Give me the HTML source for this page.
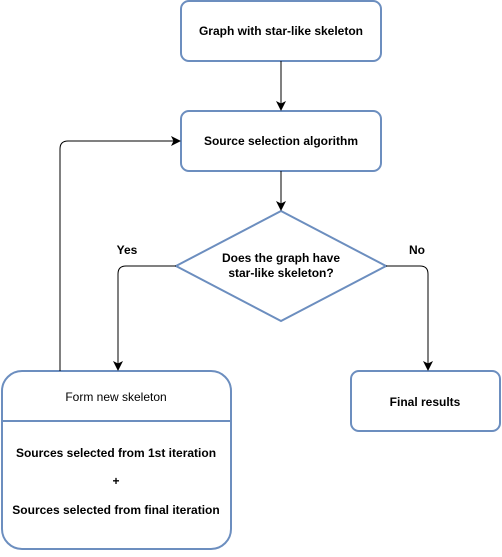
<!DOCTYPE html>
<html><head><style>
body{margin:0;background:#fff;}
svg text{font-family:"Liberation Sans",sans-serif;font-size:12px;font-weight:bold;fill:#000;}
</style></head><body>
<svg width="502" height="552" viewBox="0 0 502 552" xmlns="http://www.w3.org/2000/svg">
<defs><marker id="a" markerWidth="10" markerHeight="10" refX="9" refY="5" orient="auto" markerUnits="userSpaceOnUse"><path d="M0,0 L10,5 L0,10 L2.5,5 Z" fill="#000"/></marker></defs>
<g fill="#fff" stroke="#6c8ebf" stroke-width="2">
<rect x="181" y="1" width="200" height="60" rx="8"/>
<rect x="181" y="111" width="200" height="60" rx="8"/>
<path d="M281,211 L386,266 L281,321 L176,266 Z"/>
<rect x="2" y="371" width="229" height="178" rx="20"/>
<line x1="2" y1="421" x2="231" y2="421"/>
<rect x="351" y="371" width="149" height="60" rx="8"/>
</g>
<g fill="none" stroke="#000" stroke-width="1">
<line x1="281" y1="61" x2="281" y2="110" marker-end="url(#a)"/>
<line x1="281" y1="171" x2="281" y2="210" marker-end="url(#a)"/>
<path d="M176,266 H126 Q118,266 118,274 V370" marker-end="url(#a)"/>
<path d="M386,266 H420 Q428,266 428,274 V370" marker-end="url(#a)"/>
<path d="M60,371 V149 Q60,141 68,141 H180" marker-end="url(#a)"/>
</g>
<text x="281" y="35" text-anchor="middle">Graph with star-like skeleton</text>
<text x="281" y="145" text-anchor="middle">Source selection algorithm</text>
<text x="281" y="262" text-anchor="middle">Does the graph have</text>
<text x="281" y="277" text-anchor="middle">star-like skeleton?</text>
<text x="127" y="254" text-anchor="middle">Yes</text>
<text x="417" y="254" text-anchor="middle">No</text>
<text x="116" y="401" text-anchor="middle" style="font-weight:normal">Form new skeleton</text>
<text x="116" y="457" text-anchor="middle">Sources selected from 1st iteration</text>
<text x="116" y="485" text-anchor="middle">+</text>
<text x="116" y="514" text-anchor="middle">Sources selected from final iteration</text>
<text x="425" y="406" text-anchor="middle">Final results</text>
</svg>
</body></html>
